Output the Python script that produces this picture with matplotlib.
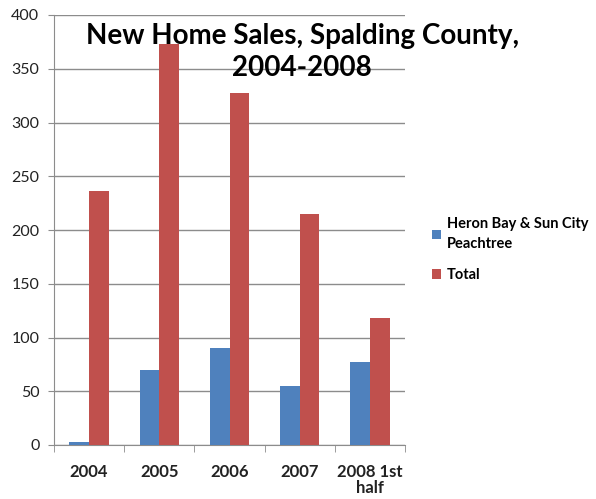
import numpy as np
import matplotlib.pyplot as plt

# New home sales per year
years = ["2004", "2005", "2006", "2007", "2008 1st\nhalf"]
heron_sun_city = [3, 70, 90, 55, 77]
total = [236, 373, 327, 215, 118]

blue = "#4F81BD"
red = "#C0504D"
grid_gray = "#8C8C8C"

plt.rcParams["font.family"] = ["Lato", "DejaVu Sans"]

fig = plt.figure(figsize=(5.96, 4.99), dpi=100)
ax = fig.add_axes([54 / 596, 1 - 445 / 499, 351 / 596, 430 / 499])

x = np.arange(len(years))
w = 0.28
ax.bar(x - w / 2, heron_sun_city, w, color=blue, label="Heron Bay & Sun City\nPeachtree", zorder=3)
ax.bar(x + w / 2, total, w, color=red, label="Total", zorder=3)

ax.set_xlim(-0.5, len(years) - 0.5)
ax.set_ylim(0, 400)
ax.set_yticks(np.arange(0, 401, 50))
ax.yaxis.grid(True, color=grid_gray, linewidth=1, zorder=0)

for side in ["top", "right"]:
    ax.spines[side].set_visible(False)
for side in ["left", "bottom"]:
    ax.spines[side].set_color(grid_gray)

ax.set_xticks(x)
ax.set_xticklabels(years, fontsize=12, fontweight="bold", color="#222222", linespacing=1.0)
ax.set_xticks(np.arange(-0.5, len(years)), minor=True)
ax.tick_params(axis="x", which="major", length=0, pad=14)
ax.tick_params(axis="x", which="minor", length=5, color=grid_gray)
ax.tick_params(axis="y", length=4.5, pad=6, color=grid_gray, labelsize=11.5, labelcolor="#222222")

fig.text(0.507, 1 - 23 / 499, "New Home Sales, Spalding County,\n2004-2008",
         ha="center", va="top", fontsize=20, fontweight="bold", linespacing=1.3)

leg = ax.legend(loc="upper left", bbox_to_anchor=(419 / 596, 1 - 204 / 499),
                bbox_transform=fig.transFigure, frameon=False,
                prop={"size": 10.5, "weight": "bold"},
                handlelength=0.6, handleheight=0.6, handletextpad=0.4,
                labelspacing=1.2)
for t in leg.get_texts():
    t.set_linespacing(1.5)

fig.savefig("out.png", dpi=100)
